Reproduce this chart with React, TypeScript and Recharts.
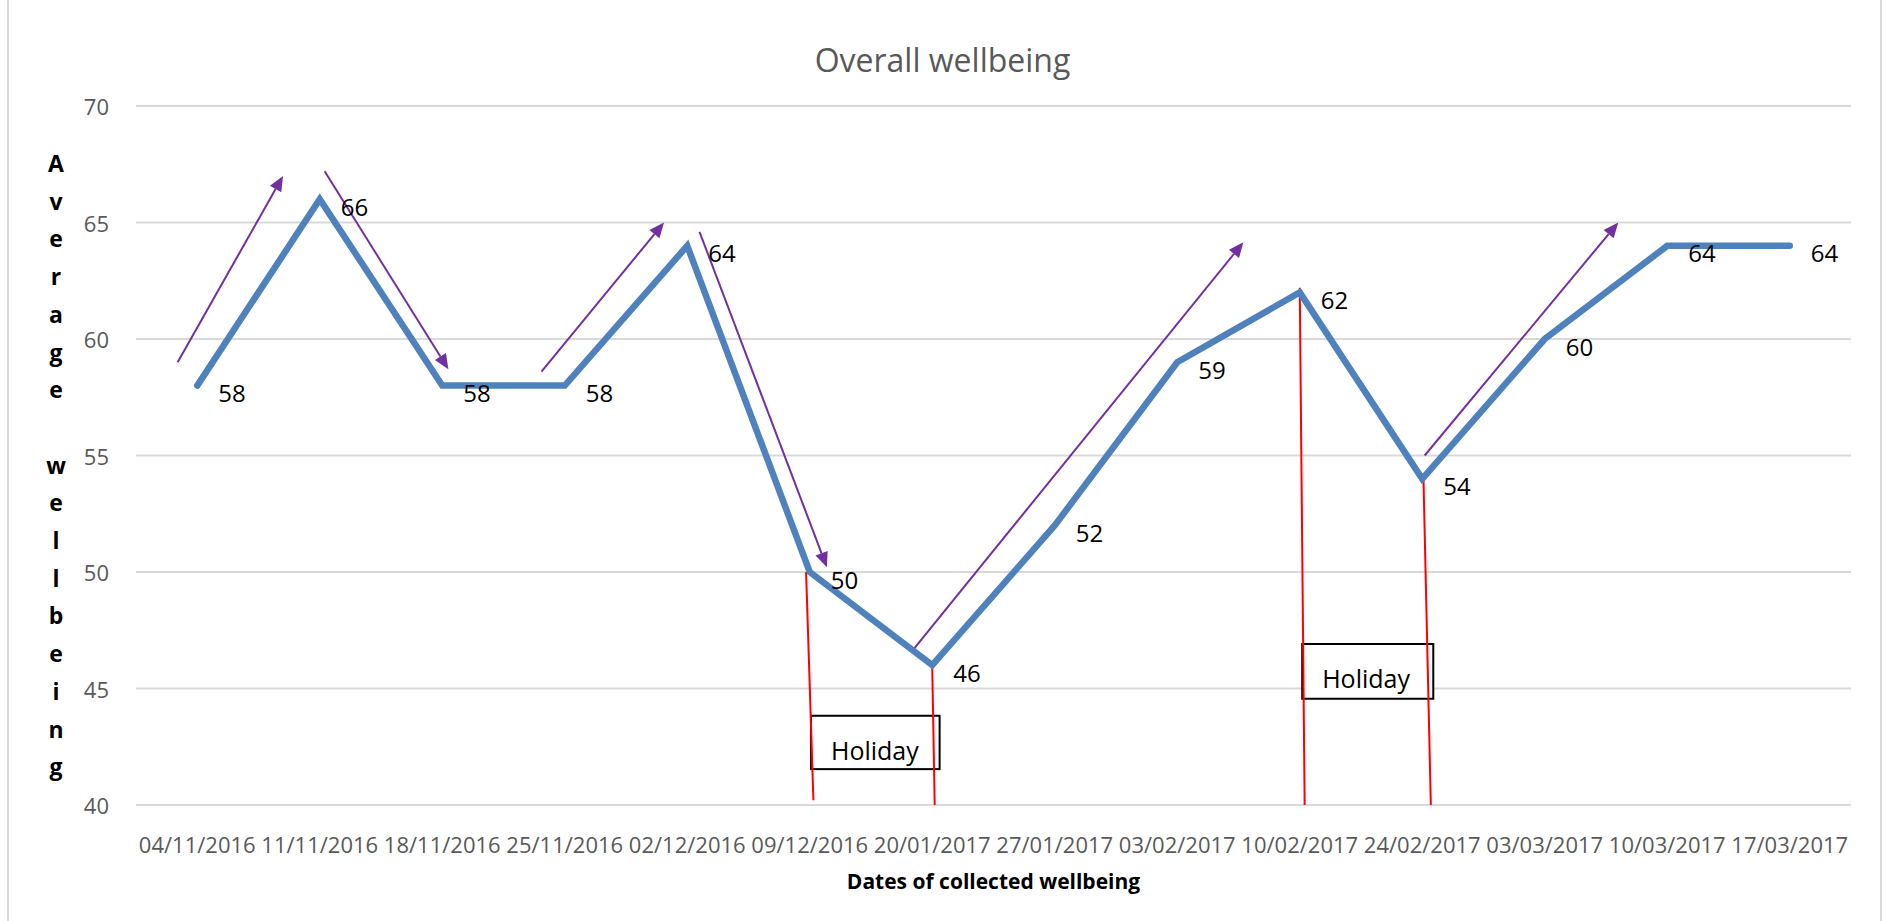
import React from "react";
import {
  CartesianGrid,
  LabelList,
  Line,
  LineChart,
  ReferenceArea,
  ReferenceLine,
  XAxis,
  YAxis,
} from "recharts";

// Weekly wellbeing survey averages
const dates = [
  "04/11/2016",
  "11/11/2016",
  "18/11/2016",
  "25/11/2016",
  "02/12/2016",
  "09/12/2016",
  "20/01/2017",
  "27/01/2017",
  "03/02/2017",
  "10/02/2017",
  "24/02/2017",
  "03/03/2017",
  "10/03/2017",
  "17/03/2017",
];
const wellbeing = [58, 66, 58, 58, 64, 50, 46, 52, 59, 62, 54, 60, 64, 64];
const yTicks = [40, 45, 50, 55, 60, 65, 70];
const yTitleLetters = "Average wellbeing".split("");

// trend arrows, as [startIdx, startVal, endIdx, endVal]
const trendArrows = [
  [-0.16, 59.0, 0.7, 67.0],
  [1.04, 67.2, 2.05, 58.7],
  [2.81, 58.6, 3.81, 65.0],
  [4.1, 64.6, 5.14, 50.2],
  [5.85, 46.7, 8.54, 64.15],
  [10.02, 55.0, 11.6, 65.0],
];

// red markers around the holiday breaks
const holidayMarkers = [
  [4.97, 50.0, 5.03, 40.2],
  [9.0, 62.2, 9.04, 40.0],
  [10.01, 54.0, 10.07, 40.0],
];
const holidayMarkersOnTop = [[6.0, 45.9, 6.02, 40.0]];

// holiday boxes, as [x1, x2, y1, y2]
const holidayBoxes = [
  [5.01, 6.06, 41.54, 43.83],
  [9.02, 10.09, 44.56, 46.91],
];

const chartData = dates.map((d, i) => ({ idx: i, date: d, value: wellbeing[i] }));

const FONT = "'Open Sans', 'Noto Sans', sans-serif";
const GREY = "#595959";
const PURPLE = "#7030a0";

function ArrowShape(props: any) {
  const { x1, y1, x2, y2 } = props;
  const ang = Math.atan2(y2 - y1, x2 - x1);
  const len = 15;
  const half = 6.5;
  const bx = x2 - len * Math.cos(ang);
  const by = y2 - len * Math.sin(ang);
  const px = -Math.sin(ang) * half;
  const py = Math.cos(ang) * half;
  return (
    <g>
      <line x1={x1} y1={y1} x2={bx} y2={by} stroke={PURPLE} strokeWidth={2} />
      <polygon
        points={`${x2},${y2} ${bx + px},${by + py} ${bx - px},${by - py}`}
        fill={PURPLE}
      />
    </g>
  );
}

function RedLine(props: any) {
  const { x1, y1, x2, y2 } = props;
  return <line x1={x1} y1={y1} x2={x2} y2={y2} stroke="#ff0000" strokeWidth={2} />;
}

function HolidayBox(props: any) {
  const { x, y, width, height } = props;
  return (
    <g>
      <rect x={x} y={y} width={width} height={height} fill="#ffffff" stroke="#000000" strokeWidth={2} />
      <text x={x + 20} y={y + 44} fontFamily={FONT} fontSize={25} fill="#000000">
        Holiday
      </text>
    </g>
  );
}

function XTick(props: any) {
  const { x, y, payload } = props;
  return (
    <text x={x} y={y + 37} textAnchor="middle" dominantBaseline="central" fontFamily={FONT} fontSize={22} fill={GREY}>
      {dates[payload.value]}
    </text>
  );
}

function YTick(props: any) {
  const { x, y, payload } = props;
  return (
    <text x={x - 25} y={y} textAnchor="end" dominantBaseline="central" fontFamily={FONT} fontSize={22} fill={GREY}>
      {payload.value}
    </text>
  );
}

function ValueLabel(props: any) {
  const { x, y, value } = props;
  return (
    <text x={x + 21} y={y + 7} dominantBaseline="central" fontFamily={FONT} fontSize={24} fill="#000000">
      {value}
    </text>
  );
}

function YTitle(props: any) {
  const vb = props.viewBox || { x: 0, y: 106 };
  return (
    <text fontFamily={FONT} fontSize={23} fontWeight={700} fill="#000000" textAnchor="middle">
      {yTitleLetters.map((ch, i) => (
        <tspan key={i} x={vb.x + 56} y={vb.y + 66 + i * 37.7}>
          {ch === " " ? "\u00a0" : ch}
        </tspan>
      ))}
    </text>
  );
}

function XTitle(props: any) {
  const vb = props.viewBox;
  return (
    <text
      x={vb.x + vb.width / 2}
      y={881}
      textAnchor="middle"
      dominantBaseline="central"
      fontFamily={FONT}
      fontSize={21}
      fontWeight={700}
      fill="#000000"
    >
      Dates of collected wellbeing
    </text>
  );
}

export default function App() {
  return (
    <div style={{ position: "absolute", left: 0, top: 0, width: 1887, height: 921, background: "#fff", overflow: "hidden" }}>
      <div
        style={{
          position: "absolute",
          left: 7,
          top: -10,
          width: 1871,
          height: 950,
          borderLeft: "2px solid #d9d9d9",
          borderRight: "2px solid #d9d9d9",
        }}
      />
      <div
        style={{
          position: "absolute",
          left: 0,
          width: 1887,
          top: 42,
          textAlign: "center",
          marginLeft: -1,
          fontFamily: FONT,
          fontSize: 32,
          color: GREY,
          lineHeight: "36px",
        }}
      >
        Overall wellbeing
      </div>
      <div style={{ position: "absolute", left: 0, top: 0 }}>
        <LineChart width={1887} height={921} data={chartData} margin={{ top: 106, right: 36, bottom: 0, left: 0 }}>
          <CartesianGrid horizontal vertical={false} stroke="#d9d9d9" strokeWidth={2} />
          <XAxis
            dataKey="idx"
            type="number"
            domain={[-0.5, 13.5]}
            ticks={dates.map((_, i) => i)}
            interval={0}
            axisLine={false}
            tickLine={false}
            tickSize={0}
            tick={<XTick />}
            height={116}
            label={{ content: <XTitle /> }}
          />
          <YAxis
            type="number"
            domain={[40, 70]}
            ticks={yTicks}
            interval={0}
            axisLine={false}
            tickLine={false}
            tickSize={0}
            width={136}
            tick={<YTick />}
            label={{ content: <YTitle /> }}
          />
          {holidayMarkers.map((m, i) => (
            <ReferenceLine
              key={`r${i}`}
              segment={[
                { x: m[0], y: m[1] },
                { x: m[2], y: m[3] },
              ]}
              shape={RedLine}
            />
          ))}
          {holidayBoxes.map((b, i) => (
            <ReferenceArea key={`b${i}`} x1={b[0]} x2={b[1]} y1={b[2]} y2={b[3]} shape={HolidayBox} />
          ))}
          {holidayMarkersOnTop.map((m, i) => (
            <ReferenceLine
              key={`t${i}`}
              segment={[
                { x: m[0], y: m[1] },
                { x: m[2], y: m[3] },
              ]}
              shape={RedLine}
            />
          ))}
          {trendArrows.map((a, i) => (
            <ReferenceLine
              key={`a${i}`}
              segment={[
                { x: a[0], y: a[1] },
                { x: a[2], y: a[3] },
              ]}
              shape={ArrowShape}
            />
          ))}
          <Line
            type="linear"
            dataKey="value"
            stroke="#4f81bd"
            strokeWidth={6.5}
            strokeLinecap="round"
            dot={false}
            activeDot={false}
            isAnimationActive={false}
          >
            <LabelList dataKey="value" content={<ValueLabel />} />
          </Line>
        </LineChart>
      </div>
    </div>
  );
}
